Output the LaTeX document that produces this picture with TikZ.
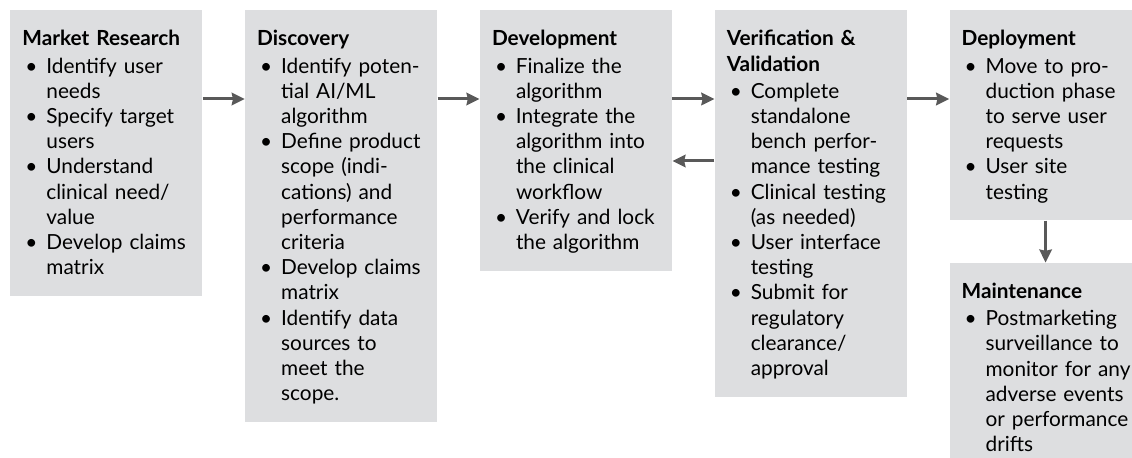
\documentclass[tikz,border=0pt]{standalone}
\usepackage{fontspec}
\setmainfont{Lato}
\usetikzlibrary{positioning,arrows.meta}

\definecolor{phasegray}{RGB}{221,222,224}
\definecolor{flowgray}{RGB}{89,89,89}

\newcommand{\itm}[1]{\makebox[12pt][l]{\hspace{1.5pt}\textbullet}\mbox{#1\rule[-2.5pt]{0pt}{2.5pt}}}
\newcommand{\cnt}[1]{\hspace*{12pt}\mbox{#1\rule[-2.5pt]{0pt}{2.5pt}}}

\begin{document}
\begin{tikzpicture}[
  x=0.5pt, y=-0.5pt,
  node distance = 21pt and 21pt,
  phase/.style  = {rectangle, fill=phasegray, text width=84pt, align=left,
                   font=\fontsize{10.4}{12.6}\selectfont, inner xsep=6pt, inner ysep=8pt,
                   text height=9.8pt},
  flow/.style   = {->, >={Stealth[inset=0.6pt, length=6.5pt, width=6.2pt]}, line width=1.5pt, draw=flowgray}
]
\useasboundingbox (0,0) rectangle (1132,458);

\node[phase, anchor=north west] (market) at (10,10)
  {\textbf{Market Research}\\[1pt]
   \itm{Identify user}\\ \cnt{needs}\\
   \itm{Specify target}\\ \cnt{users}\\
   \itm{Understand}\\ \cnt{clinical need/}\\ \cnt{value}\\
   \itm{Develop claims}\\ \cnt{matrix}};

\node[phase, right=of market.north east, anchor=north west] (disc)
  {\textbf{Discovery}\\[1pt]
   \itm{Identify poten-}\\ \cnt{tial AI/ML}\\ \cnt{algorithm}\\
   \itm{Define product}\\ \cnt{scope (indi-}\\ \cnt{cations) and}\\ \cnt{performance}\\ \cnt{criteria}\\
   \itm{Develop claims}\\ \cnt{matrix}\\
   \itm{Identify data}\\ \cnt{sources to}\\ \cnt{meet the}\\ \cnt{scope.}};

\node[phase, right=of disc.north east, anchor=north west] (devel)
  {\textbf{Development}\\[1pt]
   \itm{Finalize the}\\ \cnt{algorithm}\\
   \itm{Integrate the}\\ \cnt{algorithm into}\\ \cnt{the clinical}\\ \cnt{workflow}\\
   \itm{Verify and lock}\\ \cnt{the algorithm}};

\node[phase, right=of devel.north east, anchor=north west] (verif)
  {\textbf{Verification \&}\\ \textbf{Validation}\\[1pt]
   \itm{Complete}\\ \cnt{standalone}\\ \cnt{bench perfor-}\\ \cnt{mance testing}\\
   \itm{Clinical testing}\\ \cnt{(as needed)}\\
   \itm{User interface}\\ \cnt{testing}\\
   \itm{Submit for}\\ \cnt{regulatory}\\ \cnt{clearance/}\\ \cnt{approval}};

\node[phase, right=of verif.north east, anchor=north west] (deploy)
  {\textbf{Deployment}\\[1pt]
   \itm{Move to pro-}\\ \cnt{duction phase}\\ \cnt{to serve user}\\ \cnt{requests}\\
   \itm{User site}\\ \cnt{testing}};

\node[phase, below=of deploy] (maint)
  {\textbf{Maintenance}\\[1pt]
   \itm{Postmarketing}\\ \cnt{surveillance to}\\ \cnt{monitor for any}\\
   \cnt{adverse events}\\ \cnt{or performance}\\ \cnt{drifts}};

% rows of the connectors
\coordinate (fwdrow)  at (0,99);
\coordinate (backrow) at (0,161);

\draw[flow] (market.east |- fwdrow) -- (disc.west |- fwdrow);
\draw[flow] (disc.east |- fwdrow)   -- (devel.west |- fwdrow);
\draw[flow] (devel.east |- fwdrow)  -- (verif.west |- fwdrow);
\draw[flow] (verif.west |- backrow) -- (devel.east |- backrow);
\draw[flow] (verif.east |- fwdrow)  -- (deploy.west |- fwdrow);
\draw[flow] (deploy) -- (maint);

\end{tikzpicture}
\end{document}
